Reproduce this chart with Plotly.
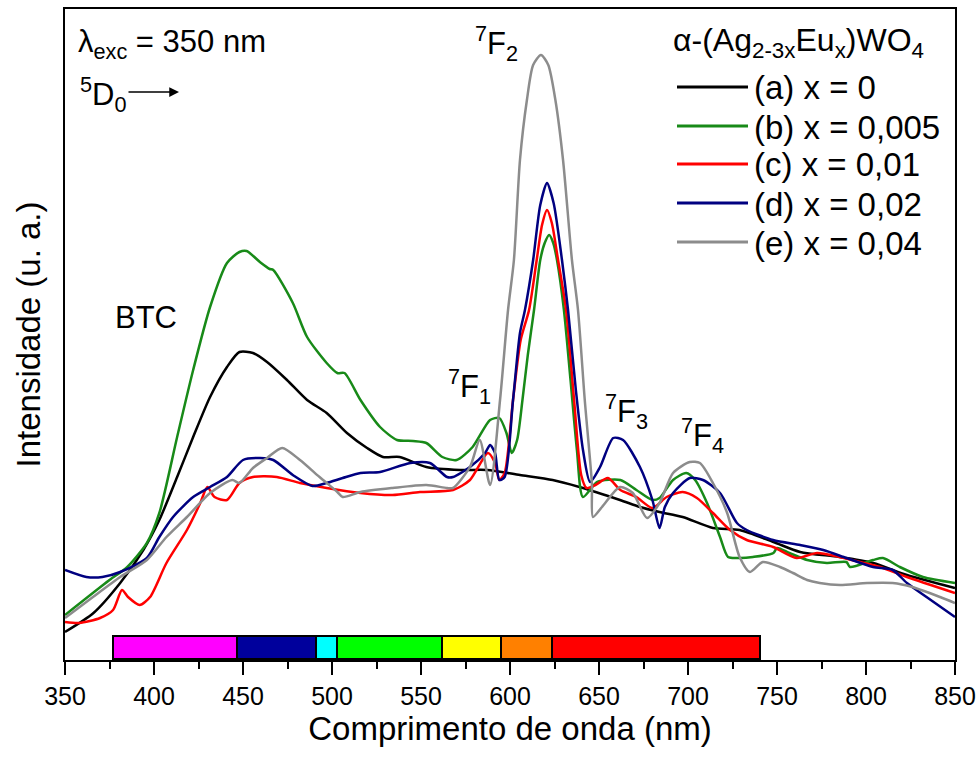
import plotly.graph_objects as go

# ---------------- data ----------------
nm_a = [350, 366, 381, 394, 403, 413, 422, 431.5, 441, 448, 455.6, 463.5, 474.7, 486, 497, 508.4, 519.7, 528.6, 538, 553,
        572, 587, 605.6, 624, 639, 661.8, 673, 684, 697, 714, 729, 748, 763, 785, 804, 823, 850]
int_a = [28, 47, 77, 110, 140, 183, 223, 263, 293, 308, 307, 298, 280, 260, 247, 227, 212, 203, 203, 193,
         190, 190, 185, 180, 173, 160, 153, 148, 143, 132, 130, 118, 108, 103, 97, 85, 72]

nm_b = [350, 375, 385, 396, 403, 413, 422, 431.5, 441, 448, 452, 459.5, 465, 467, 478, 486, 497, 503, 507, 516, 527,
        536.5, 545.5, 553, 562, 570, 579, 588.8, 594, 598, 601, 604, 607, 610, 613.5, 617, 619.5, 622, 624.3, 626.4,
        630.3, 634, 637.6, 641, 649, 662, 671, 680, 684, 691.6, 699, 704, 710.7, 718, 722.5, 729, 736.5, 748, 750,
        757, 767, 778, 789, 791, 804, 809.5, 819, 832, 850]
int_b = [45, 80, 93, 117, 147, 223, 290, 353, 397, 408, 409, 398, 391, 390, 357, 323, 297, 287, 287, 260, 233,
         220, 219, 217, 203, 200, 213, 240, 242, 227, 207, 220, 260, 305, 350, 400, 417, 425, 417, 400,
         350, 280, 210, 163, 178, 180, 170, 160, 162, 180, 187, 180, 157, 123, 103, 102, 103, 107, 112,
         107, 100, 97, 98, 93, 100, 102, 93, 83, 77]

nm_c = [350, 358, 369.7, 377, 382, 385.4, 392, 397.8, 407, 418.5, 426, 430, 434, 441, 448, 455.6, 469, 482, 497, 516,
        534, 549.4, 568, 577.5, 587.6, 591.6, 594, 597, 601.7, 606, 610.7, 615, 618, 620.8, 623.5, 627, 631.5, 636,
        640, 643, 648, 655, 662, 671, 680, 688, 697, 705, 714, 723.6, 733, 747.8, 761, 772.5, 785, 796.6, 808, 823, 850]
int_c = [38, 37, 42, 50, 70, 63, 55, 63, 97, 130, 157, 173, 163, 160, 177, 183, 183, 177, 172, 167,
         165, 168, 170, 180, 207, 197, 180, 187, 260, 320, 350, 400, 435, 450, 437, 400, 350, 260,
         185, 172, 175, 182, 170, 163, 152, 163, 168, 162, 147, 130, 120, 113, 102, 107, 103, 98, 93, 83, 67]

nm_d = [350, 362, 371, 381, 396, 403, 410.7, 422, 431.5, 441, 450, 459.6, 467, 478, 489, 497, 506, 516, 527, 544,
        555, 564.6, 568, 577.5, 586, 588.8, 591.6, 594, 597, 601.7, 605.6, 608.4, 613, 617, 620.8, 624.5, 629.2,
        632.6, 637, 641, 645, 650.6, 658, 663.5, 673, 680, 684, 687, 691.6, 701, 708.4, 718, 727.5, 733, 747.8,
        763, 776, 789, 804, 815, 823, 834, 850]
int_d = [90, 83, 83, 88, 102, 123, 143, 163, 173, 183, 200, 202, 200, 185, 174, 177, 182, 187, 188, 197,
         197, 183, 183, 193, 207, 215, 207, 180, 183, 260, 327, 350, 400, 455, 477, 457, 400,
         350, 270, 210, 178, 193, 222, 220, 193, 160, 132, 153, 167, 182, 180, 167, 137, 130, 120,
         115, 110, 102, 93, 90, 77, 63, 43]

nm_e = [350, 365.7, 381, 396, 407, 418.5, 431.5, 444, 448, 455.6, 463.5, 472, 482, 493, 503, 506, 516, 534, 553,
        564.6, 568, 577.5, 583, 588.8, 594.4, 598.9, 602.2, 605.6, 609.5, 613, 617.4, 621.5, 625.5, 629.8, 634.8,
        638.2, 642, 646, 646.6, 651.7, 661.8, 669, 677, 684, 691.6, 701, 706.7, 714, 722, 729, 734.8, 742, 751.7,
        759, 766.9, 774, 785.4, 800.6, 815, 826, 841.6, 850]
int_e = [42, 63, 83, 100, 123, 143, 167, 180, 177, 192, 202, 212, 200, 183, 168, 163, 168, 172, 175,
         172, 172, 193, 220, 175, 260, 350, 400, 500, 560, 595, 605, 595, 560, 500, 400,
         350, 260, 177, 143, 153, 173, 167, 142, 157, 187, 198, 197, 177, 147, 103, 88, 98, 93,
         87, 80, 77, 75, 77, 77, 73, 63, 57]

series_names = ["(a) x = 0", "(b) x = 0,005", "(c) x = 0,01", "(d) x = 0,02", "(e) x = 0,04"]
series_colors = ["#000000", "#188a18", "#ff0000", "#000080", "#8c8c8c"]

# visible spectrum bar (nm boundaries)
spec_edges = [377, 446.6, 491, 503, 562, 595, 623.6, 740.5]
spec_colors = ["#ff00ff", "#00009c", "#00ffff", "#00ff00", "#ffff00", "#ff8000", "#ff0000"]
spec_base = 1
spec_height = 23

x_ticks = [350, 400, 450, 500, 550, 600, 650, 700, 750, 800, 850]

# ---------------- figure ----------------
FONT = "Liberation Sans, Arial, sans-serif"
fig = go.Figure()

centers = [(spec_edges[i] + spec_edges[i + 1]) / 2 for i in range(len(spec_colors))]
widths = [spec_edges[i + 1] - spec_edges[i] for i in range(len(spec_colors))]
fig.add_trace(go.Bar(x=centers, y=[spec_height] * len(centers), base=spec_base, width=widths,
                     marker=dict(color=spec_colors, line=dict(color="black", width=2)),
                     showlegend=False, hoverinfo="skip"))

all_x = [nm_a, nm_b, nm_c, nm_d, nm_e]
all_y = [int_a, int_b, int_c, int_d, int_e]
for xs, ys, nmn, col in zip(all_x, all_y, series_names, series_colors):
    fig.add_trace(go.Scatter(x=xs, y=ys, mode="lines", name=nmn,
                             line=dict(color=col, width=2.5, shape="spline", smoothing=0.7),
                             showlegend=False))

# plot area geometry in pixels
L, R, T, B = 65, 955, 9, 660
W, H = R - L, B - T


def px(x):
    return (x - L) / W


def py(y):
    return (B - y) / H


annotations = []
shapes = []

# manual legend
annotations.append(dict(x=px(798), y=py(42), xref="paper", yref="paper", showarrow=False,
                        text="α-(Ag<sub>2-3x</sub>Eu<sub>x</sub>)WO<sub>4</sub>",
                        font=dict(size=32, color="black", family=FONT), xanchor="center", yanchor="middle"))
leg_rows = [87, 126, 164, 203, 242]
for r, nmn, col in zip(leg_rows, series_names, series_colors):
    shapes.append(dict(type="line", xref="paper", yref="paper", x0=px(677), x1=px(748), y0=py(r), y1=py(r),
                       line=dict(color=col, width=3)))
    annotations.append(dict(x=px(752), y=py(r + 1), xref="paper", yref="paper", showarrow=False, text=nmn,
                            font=dict(size=33, color="black", family=FONT), xanchor="left", yanchor="middle"))

# text labels
annotations += [
    dict(x=px(76), y=py(44), xref="paper", yref="paper", showarrow=False,
         text="λ<sub>exc</sub> = 350 nm", font=dict(size=31, family=FONT, color="black"),
         xanchor="left", yanchor="middle"),
    dict(x=px(78), y=py(95), xref="paper", yref="paper", showarrow=False,
         text="<sup>5</sup>D<sub>0</sub>", font=dict(size=31, family=FONT, color="black"),
         xanchor="left", yanchor="middle"),
    dict(x=px(179), y=py(92), ax=-52, ay=0, xref="paper", yref="paper",
         showarrow=True, arrowhead=2, arrowsize=1.3, arrowwidth=1.5, arrowcolor="black", text=""),
    dict(x=px(146), y=py(317), xref="paper", yref="paper", showarrow=False, text="BTC",
         font=dict(size=31, family=FONT, color="black"), xanchor="center", yanchor="middle"),
    dict(x=px(496), y=py(44), xref="paper", yref="paper", showarrow=False, text="<sup>7</sup>F<sub>2</sub>",
         font=dict(size=31, family=FONT, color="black"), xanchor="center", yanchor="middle"),
    dict(x=px(469), y=py(386), xref="paper", yref="paper", showarrow=False, text="<sup>7</sup>F<sub>1</sub>",
         font=dict(size=31, family=FONT, color="black"), xanchor="center", yanchor="middle"),
    dict(x=px(626), y=py(411), xref="paper", yref="paper", showarrow=False, text="<sup>7</sup>F<sub>3</sub>",
         font=dict(size=31, family=FONT, color="black"), xanchor="center", yanchor="middle"),
    dict(x=px(702), y=py(435), xref="paper", yref="paper", showarrow=False, text="<sup>7</sup>F<sub>4</sub>",
         font=dict(size=31, family=FONT, color="black"), xanchor="center", yanchor="middle"),
]

fig.update_layout(
    width=979, height=758,
    margin=dict(l=L, r=979 - R, t=T, b=758 - B),
    paper_bgcolor="white", plot_bgcolor="white",
    font=dict(family=FONT, color="black"),
    showlegend=False,
    annotations=annotations, shapes=shapes,
    xaxis=dict(range=[350, 850], tickvals=x_ticks, ticks="outside", ticklen=13, tickwidth=2,
               tickcolor="black", showline=True, linecolor="black", linewidth=2, mirror=True,
               showgrid=False, zeroline=False, tickfont=dict(size=25, family=FONT), automargin=False,
               minor=dict(dtick=25, ticks="outside", ticklen=7, tickwidth=2, tickcolor="black"),
               title=dict(text="Comprimento de onda (nm)", font=dict(size=33, family=FONT), standoff=8)),
    yaxis=dict(range=[0, 651], showticklabels=False, ticks="", showline=True, linecolor="black",
               linewidth=2, mirror=True, showgrid=False, zeroline=False,
               title=dict(text="Intensidade (u. a.)", font=dict(size=33, family=FONT), standoff=12)),
    bargap=0,
)

fig.write_html("out.html")
